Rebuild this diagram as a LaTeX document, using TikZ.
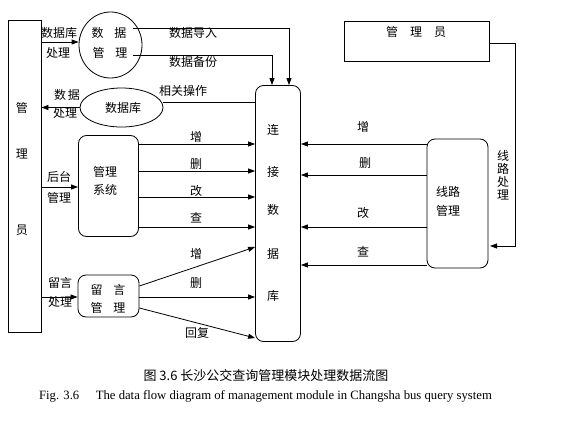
\documentclass[tikz,border=0pt]{standalone}
\usepackage{fontspec}
\setmainfont{Liberation Serif}
\newfontfamily\cjk{Noto Sans CJK SC}
\usetikzlibrary{shapes.geometric,arrows.meta}
\tikzset{
  ln/.style={line width=0.8pt,draw=black},
  arr/.style={ln,-{Triangle[length=7pt,width=5pt]}},
  lbl/.style={inner sep=0pt,font=\cjk\fontsize{12}{13}\selectfont},
  sqbox/.style={ln,rectangle,inner sep=0pt},
  rbox/.style={ln,rectangle,rounded corners=8pt,inner sep=0pt},
  ell/.style={ln,ellipse,inner sep=0pt},
}
\begin{document}
\begin{tikzpicture}[x=1pt,y=-1pt]
\useasboundingbox (0,0) rectangle (575,434);
% nodes
\node[sqbox,minimum width=33pt,minimum height=312pt] (mgr) at (24.5,176) {};
\node[lbl] (mgrA) at (22,108) {管};
\node[lbl] (mgrB) at (22,154) {理};
\node[lbl] (mgrC) at (22,230) {员};

\node[ell,minimum width=63pt,minimum height=66pt] (dm) at (110.5,45) {};
\node[lbl] (dmA) at (109,33) {数\hspace{11pt}据};
\node[lbl] (dmB) at (110,53) {管\hspace{11pt}理};

\node[ell,minimum width=83pt,minimum height=39pt] (db) at (121.5,107.5) {};
\node[lbl] (dbT) at (123,108) {数据库};

\node[rbox,minimum width=60pt,minimum height=101pt] (sys) at (108.5,186) {};
\node[lbl] (sysA) at (105,172) {管理};
\node[lbl] (sysB) at (105,190) {系统};

\node[rbox,minimum width=61pt,minimum height=42pt] (msg) at (108.5,296) {};
\node[lbl] (msgA) at (108,290) {留\hspace{11pt}言};
\node[lbl] (msgB) at (108,308) {管\hspace{11pt}理};

\node[rbox,minimum width=45pt,minimum height=256pt] (conn) at (278,213.5) {};
\node[lbl] (cA) at (273,130) {连};
\node[lbl] (cB) at (273,172) {接};
\node[lbl] (cC) at (273,210) {数};
\node[lbl] (cD) at (273,254) {据};
\node[lbl] (cE) at (273,296) {库};

\node[sqbox,minimum width=145pt,minimum height=40pt] (adm) at (416.5,41) {};
\node[lbl] (admT) at (416,32) {管\hspace{12pt}理\hspace{12pt}员};

\node[rbox,minimum width=61pt,minimum height=129pt] (route) at (457.5,203.5) {};
\node[lbl] (rA) at (448,192) {线路};
\node[lbl] (rB) at (448,211) {管理};

% corner coordinates
\coordinate (dmimp) at (133,28);
\coordinate (dmbak) at (133,55);
\coordinate (admout) at (489,43);
\coordinate (rin) at (490,246);

% connectors: left side
\draw[arr] (mgr.east |- 0,42) -- (dm.west |- 0,42);
\node[lbl] (l1) at (59,33) {数据库};
\node[lbl] (l2) at (58,53) {处理};

\draw[arr] (db.west) -- (mgr.east |- db.west);
\node[lbl] (l3) at (67,95) {数\,据};
\node[lbl] (l4) at (65,113) {处理};

\draw[arr] (mgr.east |- 0,187) -- (sys.west |- 0,187);
\node[lbl] (l5) at (59,177) {后台};
\node[lbl] (l6) at (59,198) {管理};

\draw[arr] (mgr.east |- 0,297) -- (msg.west |- 0,297);
\node[lbl] (l7) at (60,283) {留言};
\node[lbl] (l8) at (60,302) {处理};

% data management to connection
\draw[arr] (dmimp) -| (conn.north -| 289,0);
\node[lbl] (l9) at (193,33) {数据导入};
\draw[arr] (dmbak) -| (conn.north -| 272,0);
\node[lbl] (l10) at (193,62) {数据备份};

\draw[ln] (db.east |- 0,102) -- (conn.west |- 0,102);
\node[lbl] (l11) at (183,91) {相关操作};

% system to connection
\draw[arr] (sys.east |- 0,144) -- (conn.west |- 0,144);
\node[lbl] (s1) at (196,137) {增};
\draw[arr] (sys.east |- 0,171) -- (conn.west |- 0,171);
\node[lbl] (s2) at (196,164) {删};
\draw[arr] (sys.east |- 0,197) -- (conn.west |- 0,197);
\node[lbl] (s3) at (196,191) {改};
\draw[arr] (sys.east |- 0,227) -- (conn.west |- 0,227);
\node[lbl] (s4) at (196,218) {查};

% message to connection
\draw[arr] (msg.east |- 0,286) -- (conn.west |- 0,247);
\node[lbl] (m1) at (196,254) {增};
\draw[arr] (msg.east |- 0,297) -- (conn.west |- 0,297);
\node[lbl] (m2) at (196,283) {删};
\draw[arr] (msg.east |- 0,308) -- (conn.west |- 0,338);
\node[lbl] (m3) at (197,333) {回复};

% route to connection
\draw[arr] (route.west |- 0,144) -- (conn.east |- 0,144);
\node[lbl] (r1) at (363,127) {增};
\draw[arr] (route.west |- 0,175) -- (conn.east |- 0,175);
\node[lbl] (r2) at (365,163) {删};
\draw[arr] (route.west |- 0,227) -- (conn.east |- 0,227);
\node[lbl] (r3) at (363,213) {改};
\draw[arr] (route.west |- 0,265) -- (conn.east |- 0,265);
\node[lbl] (r4) at (363,252) {查};

% admin to route
\draw[arr] (admout) -| (515,246) -- (rin);
\node[lbl,align=center,font=\cjk\fontsize{12}{13}\selectfont] (vt) at (503,175) {线\\路\\处\\理};

% caption
\node[inner sep=0pt,font=\cjk\fontsize{13}{15}\selectfont] (cap1) at (266,376) {图 3.6 长沙公交查询管理模块处理数据流图};
\node[inner sep=0pt,font=\fontsize{12.7}{14}\selectfont] (cap2) at (265.5,396) {Fig. 3.6\hspace{1.3em}The data flow diagram of management module in Changsha bus query system};
\end{tikzpicture}
\end{document}
